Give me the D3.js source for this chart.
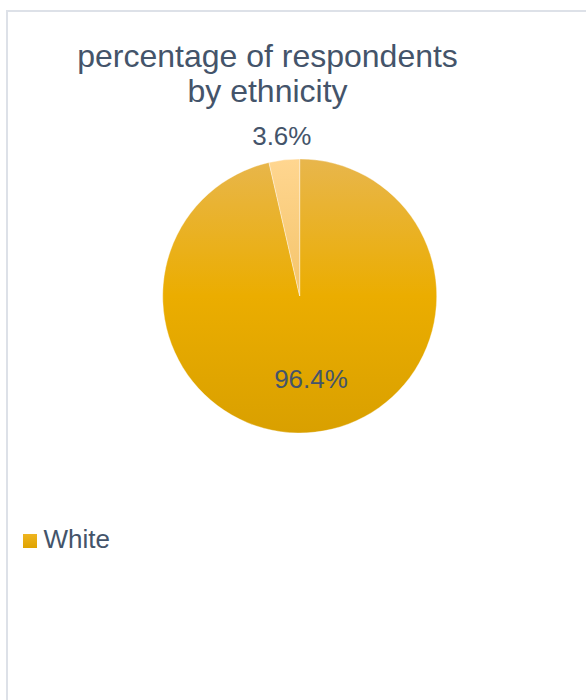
<!DOCTYPE html>
<html>
<head>
<meta charset="utf-8">
<script src="https://cdn.jsdelivr.net/npm/d3@7"></script>
<style>
  html, body { margin: 0; padding: 0; background: #fff; }
  svg { display: block; }
  text { font-family: "Liberation Sans", Arial, sans-serif; fill: #44546a; }
</style>
</head>
<body>
<svg id="chart" width="586" height="700"></svg>
<script>
const titleLines = ["percentage of respondents", "by ethnicity"];
const categories = ["White", "Other"];
const values = [96.4, 3.6];
const labels = ["96.4%", "3.6%"];
const legendCategories = ["White"];

const W = 586, H = 700;
const svg = d3.select("#chart");
const defs = svg.append("defs");

// Frame
svg.append("rect")
  .attr("x", 7).attr("y", 11)
  .attr("width", W + 20).attr("height", H + 20)
  .attr("fill", "#fff")
  .attr("stroke", "#dde1e8")
  .attr("stroke-width", 2);

// Title
svg.append("text")
  .attr("text-anchor", "middle")
  .attr("font-size", 32)
  .selectAll("tspan")
  .data(titleLines)
  .join("tspan")
  .attr("x", 267.5)
  .attr("y", (d, i) => 67 + i * 35)
  .text(d => d);

const cx = 299.7, cy = 296, r = 137;

const gradStops = [
  [{o: 0, c: "#e8b64c"}, {o: 0.5, c: "#ebad00"}, {o: 1, c: "#d9a000"}],
  [{o: 0, c: "#ffd690"}, {o: 0.5, c: "#f4c46a"}, {o: 1, c: "#e8b44a"}]
];
gradStops.forEach((stops, i) => {
  const g = defs.append("linearGradient")
    .attr("id", "grad" + i)
    .attr("gradientUnits", "userSpaceOnUse")
    .attr("x1", 0).attr("y1", -r).attr("x2", 0).attr("y2", r);
  g.selectAll("stop").data(stops).join("stop")
    .attr("offset", d => d.o).attr("stop-color", d => d.c);
});
const lg = defs.append("linearGradient")
  .attr("id", "legendGrad").attr("x1", 0).attr("y1", 0).attr("x2", 0).attr("y2", 1);
lg.append("stop").attr("offset", 0).attr("stop-color", "#efb520");
lg.append("stop").attr("offset", 1).attr("stop-color", "#dfa300");

const pie = d3.pie().sort(null).value(d => d);
const arcs = pie(values);
const arc = d3.arc().innerRadius(0).outerRadius(r);

const g = svg.append("g").attr("transform", `translate(${cx},${cy})`);
g.selectAll("path")
  .data(arcs)
  .join("path")
  .attr("d", arc)
  .attr("fill", (d, i) => `url(#grad${i})`)
  .attr("stroke", "#fff")
  .attr("stroke-width", 0.6)
  .attr("stroke-opacity", 0.6);

// Data labels (positions relative to pie centre)
const labelPos = [
  {x: 311 - cx, y: 388 - cy},
  {x: 281.8 - cx, y: 145 - cy}
];
g.selectAll("text.lbl")
  .data(arcs)
  .join("text")
  .attr("class", "lbl")
  .attr("text-anchor", "middle")
  .attr("font-size", 26)
  .attr("x", (d, i) => labelPos[i].x)
  .attr("y", (d, i) => labelPos[i].y)
  .text((d, i) => labels[i]);

// Legend
const leg = svg.append("g").attr("transform", "translate(23,534)");
leg.selectAll("rect").data(legendCategories).join("rect")
  .attr("x", 0).attr("y", (d, i) => i * 30)
  .attr("width", 14).attr("height", 14)
  .attr("fill", "url(#legendGrad)");
leg.selectAll("text").data(legendCategories).join("text")
  .attr("x", 20.5).attr("y", (d, i) => 13.8 + i * 30)
  .attr("font-size", 26)
  .text(d => d);
</script>
</body>
</html>
